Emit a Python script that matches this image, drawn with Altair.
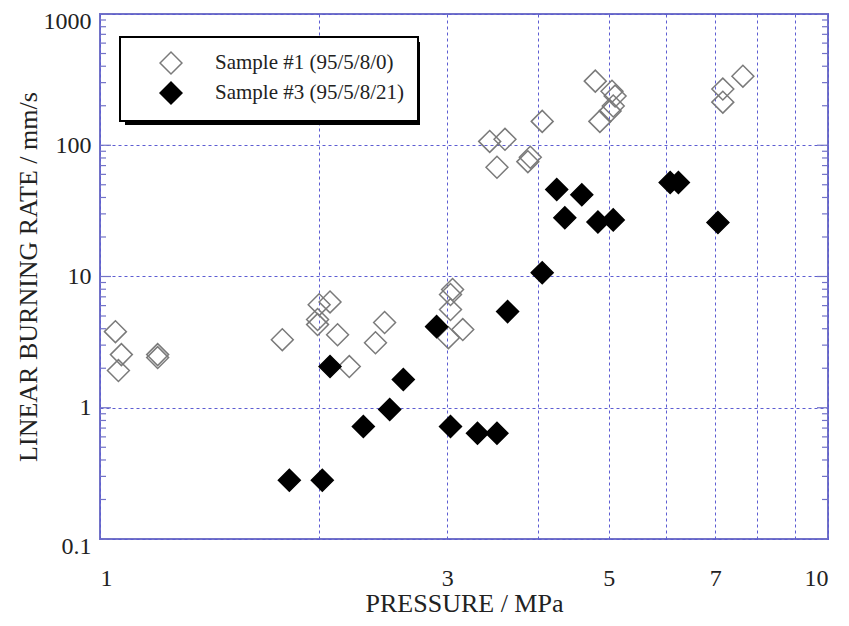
import altair as alt
import pandas as pd

# ---- data ----
series_names = ["Sample #1 (95/5/8/0)", "Sample #3 (95/5/8/21)"]

s1_pressure = [1.05, 1.07, 1.06, 1.20, 1.20, 1.78, 2.00, 2.07, 1.99, 1.99,
               2.12, 2.20, 2.39, 2.46, 3.05, 3.03, 3.03, 3.15, 3.01, 3.43,
               3.60, 3.51, 3.90, 3.87, 4.05, 4.79, 5.05, 5.07, 5.02, 4.86,
               5.10, 7.64, 7.17, 7.17]
s1_rate = [3.8, 2.54, 1.92, 2.54, 2.41, 3.30, 6.1, 6.4, 4.7, 4.3,
           3.6, 2.06, 3.13, 4.46, 7.96, 7.29, 5.6, 3.94, 3.42, 107,
           111, 68, 81, 75, 152, 308, 258, 199, 182, 152,
           237, 336, 268, 213]

s3_pressure = [1.82, 2.02, 2.07, 2.30, 2.50, 2.61, 2.90, 3.03, 3.30, 3.51,
               3.63, 4.05, 4.24, 4.59, 4.35, 4.83, 5.07, 6.07, 6.23, 7.06]
s3_rate = [0.28, 0.28, 2.06, 0.72, 0.97, 1.64, 4.15, 0.72, 0.64, 0.64,
           5.4, 10.7, 46, 42, 28, 26, 27, 52, 52, 25.8]

x_tick_values = [1, 2, 3, 4, 5, 6, 7, 8, 9, 10]
x_label_values = [1, 3, 5, 7, 10]
y_tick_values = [0.1, 1, 10, 100, 1000]
y_minor_values = [k * 10.0 ** e for e in (-1, 0, 1, 2) for k in range(2, 10)]

# ---- tables ----
df = pd.DataFrame({
    "pressure": s1_pressure + s3_pressure,
    "rate": s1_rate + s3_rate,
    "series": [series_names[0]] * len(s1_pressure) + [series_names[1]] * len(s3_pressure),
})
major_df = pd.DataFrame({"rate": y_tick_values})
minor_df = pd.DataFrame({"rate": y_minor_values})

FRAME = "#7272c8"
GRID = "#5d5dd2"
FONT = "Liberation Serif"
TXT = "#222222"
W, H = 728, 525

xscale = alt.Scale(type="log", domain=[1, 10], nice=False)
yscale = alt.Scale(type="log", domain=[0.1, 1000], nice=False)

label_expr = "indexof([" + ",".join(str(v) for v in x_label_values) + "], datum.value) >= 0 ? datum.label : ''"

x_axis = alt.Axis(
    values=x_tick_values, labelExpr=label_expr, grid=True, gridDash=[3, 3],
    gridColor=GRID, gridWidth=1, ticks=False, domain=False,
    labelPadding=27, labelFontSize=24, labelFont=FONT, labelColor=TXT,
    title="PRESSURE / MPa", titleFont=FONT, titleFontSize=26,
    titleFontWeight="normal", titleColor=TXT,
    titleBaseline="alphabetic", titleY=72, titleX=W / 2)
y_axis = alt.Axis(
    values=y_tick_values, format="~g", grid=True, gridDash=[3, 3],
    gridColor=GRID, gridWidth=1, ticks=False, domain=False,
    labelPadding=9, labelFontSize=24, labelFont=FONT, labelColor=TXT,
    labelOffset={"condition": {"test": "datum.value >= 1000 || datum.value <= 0.1", "value": 7}, "value": 0},
    title="LINEAR BURNING RATE / mm/s", titleFont=FONT, titleFontSize=26,
    titleFontWeight="normal", titleColor=TXT,
    titleBaseline="alphabetic", titleX=-64, titleY=H / 2)

legend = alt.Legend(
    title=None, orient="none", legendX=20, legendY=23, padding=14,
    fillColor="white", strokeColor="black",
    symbolType="diamond", symbolSize=480, symbolStrokeWidth=1.5,
    symbolOffset=25, labelOffset=32, labelFont=FONT, labelFontSize=21,
    labelColor=TXT, rowPadding=2, labelLimit=400,
)

points = alt.Chart(df).mark_point(shape="diamond", size=480, strokeWidth=1.5, opacity=1).encode(
    x=alt.X("pressure:Q", scale=xscale, axis=x_axis),
    y=alt.Y("rate:Q", scale=yscale, axis=y_axis),
    fill=alt.Fill("series:N", scale=alt.Scale(domain=series_names, range=["transparent", "#000000"]), legend=legend),
    stroke=alt.Stroke("series:N", scale=alt.Scale(domain=series_names, range=["#7a7a7a", "#000000"]), legend=legend),
)

# drop shadow behind the legend box
shadow = alt.Chart(alt.Data(values=[{"k": 1}])).mark_rect(color="black").encode(
    x=alt.value(25), x2=alt.value(320), y=alt.value(28), y2=alt.value(111)
)

def edge_ticks(data, x0, x1):
    return alt.Chart(data).mark_rule(color=FRAME, strokeWidth=1.2).encode(
        y=alt.Y("rate:Q", scale=yscale, axis=y_axis), x=alt.value(x0), x2=alt.value(x1))

chart = alt.layer(
    shadow,
    edge_ticks(major_df, 0, 11), edge_ticks(major_df, W - 11, W),
    edge_ticks(minor_df, 0, 6), edge_ticks(minor_df, W - 6, W),
    points,
).properties(
    width=W, height=H,
    autosize=alt.AutoSizeParams(type="none"),
    padding={"left": 92, "top": 6, "right": 13, "bottom": 79},
    background="white",
).configure_view(stroke=FRAME, strokeWidth=2).configure_legend(strokeWidth=2, cornerRadius=0)

chart.save("out.html", embed_options={"renderer": "svg", "actions": False})
